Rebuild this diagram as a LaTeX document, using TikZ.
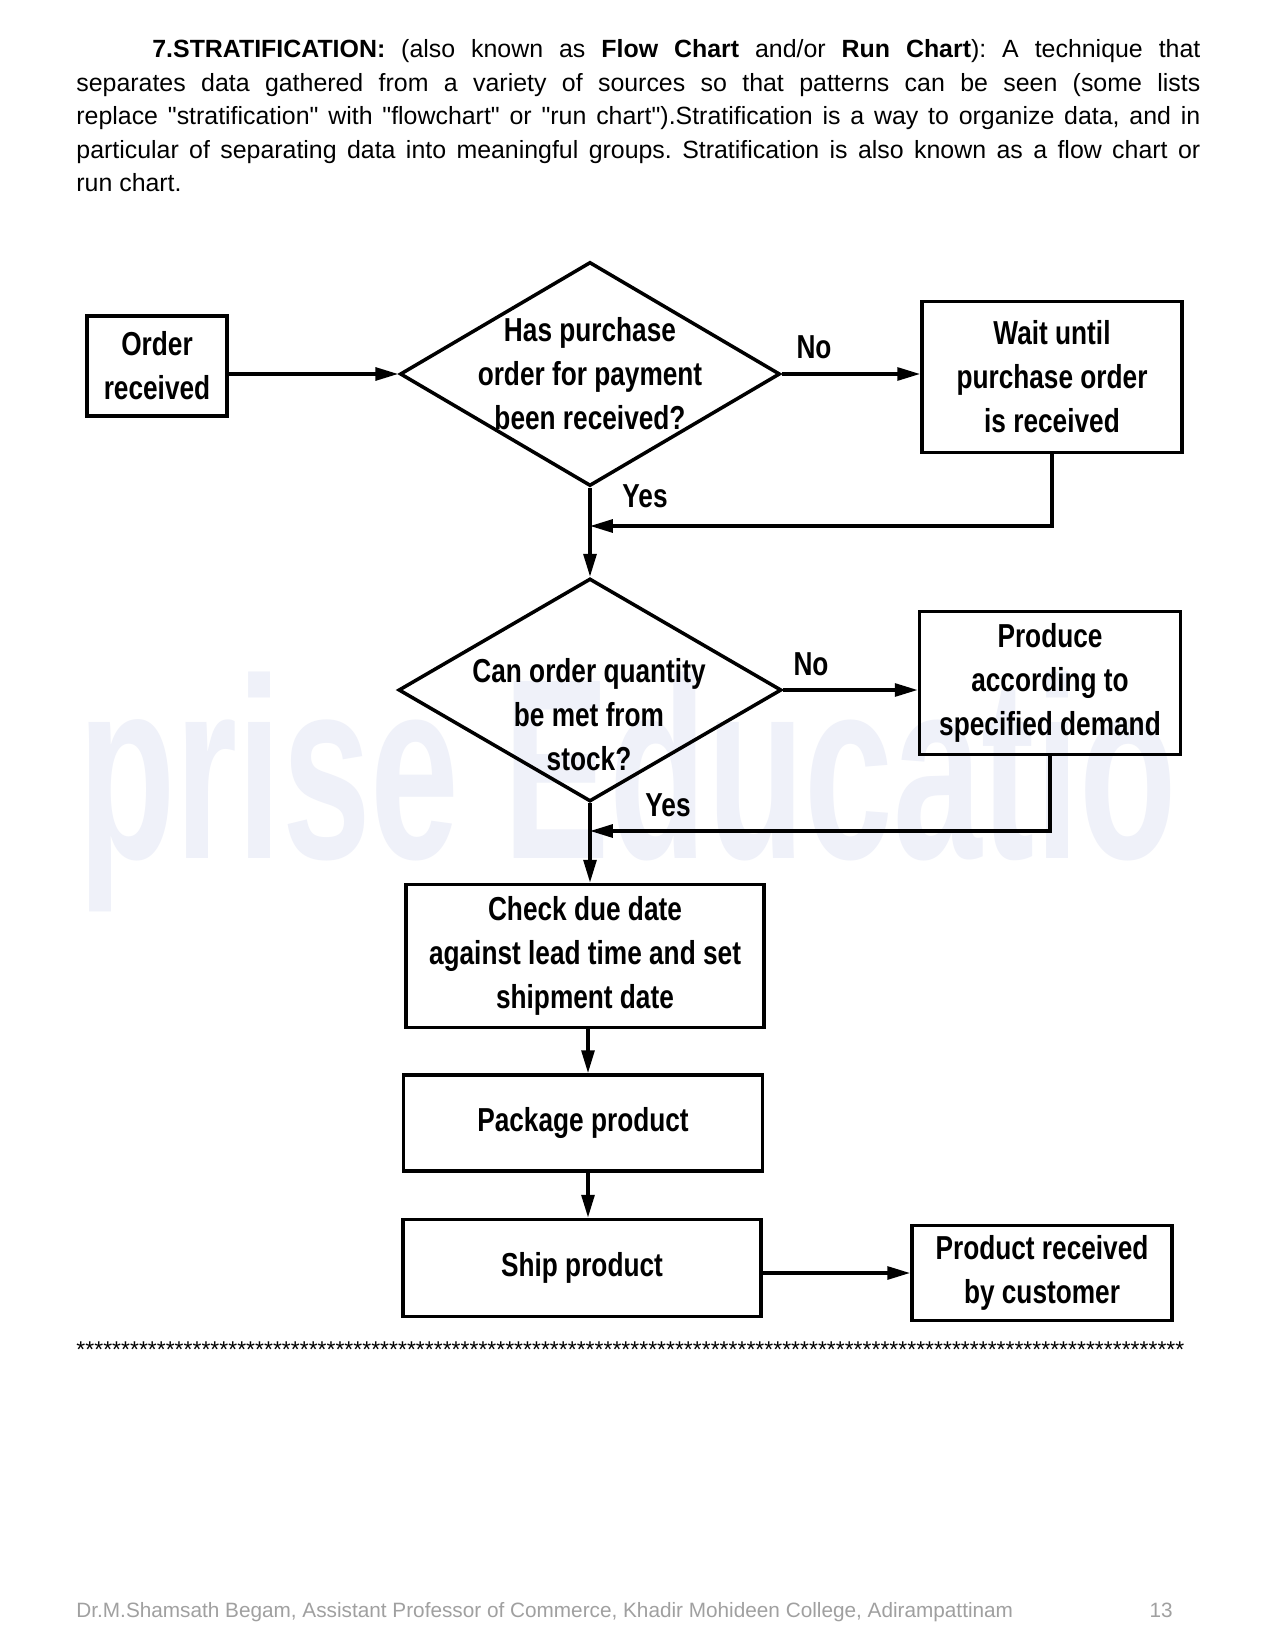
\documentclass[tikz,border=0pt]{standalone}
\usepackage{fontspec}
\usepackage{graphicx}
\setmainfont[Ligatures=TeXOff]{Liberation Sans}
\newfontfamily\chfont[FakeStretch=0.79]{Liberation Sans Bold}
\newfontfamily\wmfont{Liberation Sans Bold}
\usetikzlibrary{shapes.geometric,arrows.meta}
\definecolor{wmblue}{RGB}{239,241,249}
\definecolor{footgray}{RGB}{160,160,160}
\newcommand\pxu{0.4818pt}
\tikzset{
 box/.style={draw, line width=1.8pt, inner sep=0pt, font=\chfont\fontsize{16}{21.2}\selectfont, align=center},
 dia/.style={draw, diamond, line width=1.7pt, inner sep=0pt},
 ctext/.style={font=\chfont\fontsize{16}{21.2}\selectfont, align=center, inner sep=0pt},
 arr/.style={line width=1.6pt, -{Triangle[length=11pt,width=6.2pt]}},
 lab/.style={font=\chfont\fontsize{16}{20}\selectfont, inner sep=0pt},
 para/.style={font=\fontsize{12}{16.1}\selectfont, inner sep=0pt, anchor=base west, text width=541.5pt, align=justify},
 foot/.style={font=\fontsize{10}{12}\selectfont, text=footgray, inner sep=0pt},
}
\begin{document}
\begin{tikzpicture}[x=0.4818pt,y=-0.4818pt]
\useasboundingbox (0,0) rectangle (1275,1650);
\fill[white] (0,0) rectangle (1275,1650);
% faint watermark
\node[anchor=north west, inner sep=0pt, text=wmblue] (wm) at (78,672) {\resizebox*{529pt}{115.6pt}{\wmfont prise Educatio}};
% paragraph
\node[para] (txt) at (76,58) {\frenchspacing\hspace*{36.6pt}\textbf{7.STRATIFICATION:} (also known as \textbf{Flow Chart} and/or \textbf{Run Chart}): A technique that\linebreak separates data gathered from a variety of sources so that patterns can be seen (some lists\linebreak replace "stratification" with "flowchart" or "run chart").Stratification is a way to organize data, and in\linebreak particular of separating data into meaningful groups. Stratification is also known as a flow chart or\linebreak run chart.};
% nodes
\node[box, minimum width=140*\pxu, minimum height=100*\pxu] (order) at (157,366) {Order\\received};
\node[dia, minimum width=380*\pxu, minimum height=224*\pxu] (d1) at (590,374) {};
\node[ctext] (t1) at (d1.center) {Has purchase\\order for payment\\been received?};
\node[box, minimum width=260*\pxu, minimum height=151*\pxu] (wait) at (1052,377) {Wait until\\purchase order\\is received};
\node[dia, minimum width=383*\pxu, minimum height=223*\pxu] (d2) at (590,690) {};
\node[ctext] (t2) at (589,715) {Can order quantity\\be met from\\stock?};
\node[box, minimum width=261*\pxu, minimum height=143*\pxu] (prod) at (1050,683) {Produce\\according to\\specified demand};
\node[box, minimum width=358*\pxu, minimum height=143*\pxu] (check) at (585,956) {Check due date\\against lead time and set\\shipment date};
\node[box, minimum width=359*\pxu, minimum height=96*\pxu] (pack) at (583,1123) {Package product};
\node[box, minimum width=358*\pxu, minimum height=97*\pxu] (ship) at (582,1268) {Ship product};
\node[box, minimum width=260*\pxu, minimum height=95*\pxu] (recv) at (1042,1273) {Product received\\by customer};
% labels
\node[lab] (no1) at (814,347) {No};
\node[lab] (yes1) at (645,496) {Yes};
\node[lab] (no2) at (811,664) {No};
\node[lab] (yes2) at (668,805) {Yes};
% connectors
\coordinate (ax) at (588,0);
\coordinate (j1) at (590,526);
\coordinate (j2) at (590,831);
\draw[arr] (order.east |- d1.west) -- (d1.west);
\draw[arr] (d1.east) -- (d1.east -| wait.west);
\draw[arr] (d1.south) -- (d2.north);
\draw[arr] (wait.south) |- (j1);
\draw[arr] (d2.east) -- (d2.east -| prod.west);
\draw[arr] (prod.south) |- (j2);
\draw[arr] (d2.south) -- (d2.south |- check.north);
\draw[arr] (check.south -| ax) -- (pack.north -| ax);
\draw[arr] (pack.south -| ax) -- (ship.north -| ax);
\draw[arr] (ship.east |- recv.west) -- (recv.west);
% asterisk rule
\node[anchor=base west, inner sep=0pt, font=\fontsize{11}{13}\selectfont] (stars) at (76,1357) {\hbox to 534pt{\xleaders\hbox{*}\hfill}};
% footer
\node[foot, anchor=base west] (fl) at (76,1617) {Dr.M.Shamsath Begam, Assistant Professor of Commerce, Khadir Mohideen College, Adirampattinam};
\node[foot, anchor=base east] (fr) at (1173,1617) {13};
\end{tikzpicture}
\end{document}
